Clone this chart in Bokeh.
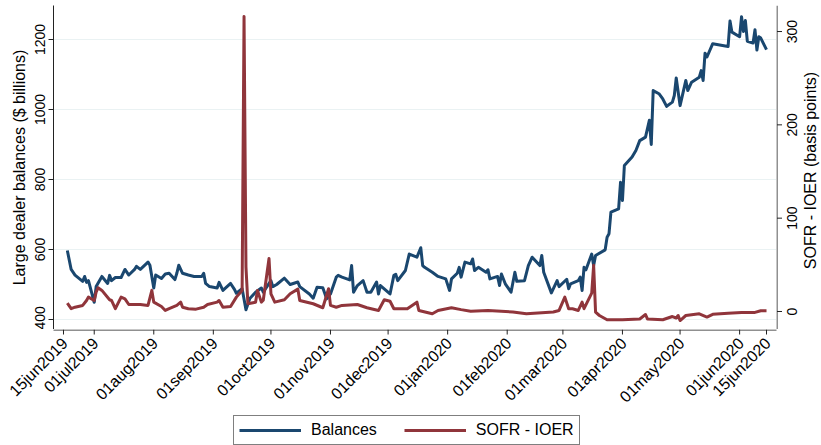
import math
import pandas as pd
from bokeh.plotting import figure
from bokeh.layouts import column, row
from bokeh.core.properties import value
from bokeh.models import (Range1d, FixedTicker, Legend, LegendItem, ColumnDataSource)
from bokeh.embed import file_html
from bokeh.resources import INLINE

# ---------------- data ----------------
bal_dates = [
    "2019-06-17", "2019-06-19", "2019-06-21", "2019-06-25", "2019-06-26", "2019-06-27", "2019-06-28",
    "2019-07-01", "2019-07-02", "2019-07-05", "2019-07-08", "2019-07-09", "2019-07-10", "2019-07-12",
    "2019-07-15", "2019-07-17", "2019-07-19", "2019-07-22", "2019-07-23", "2019-07-25", "2019-07-29",
    "2019-07-30", "2019-08-01", "2019-08-02", "2019-08-05", "2019-08-07", "2019-08-09", "2019-08-12",
    "2019-08-13", "2019-08-14", "2019-08-16", "2019-08-19", "2019-08-22", "2019-08-26", "2019-08-27",
    "2019-08-28", "2019-08-30", "2019-09-03", "2019-09-04", "2019-09-06", "2019-09-10", "2019-09-12",
    "2019-09-13", "2019-09-16", "2019-09-17", "2019-09-18", "2019-09-20", "2019-09-23", "2019-09-26",
    "2019-09-27", "2019-10-01", "2019-10-02", "2019-10-04", "2019-10-08", "2019-10-11", "2019-10-15",
    "2019-10-16", "2019-10-21", "2019-10-23", "2019-10-25", "2019-10-28", "2019-10-30", "2019-11-01",
    "2019-11-04", "2019-11-05", "2019-11-07", "2019-11-11", "2019-11-12", "2019-11-13", "2019-11-15",
    "2019-11-18", "2019-11-20", "2019-11-22", "2019-11-25", "2019-11-26", "2019-11-27", "2019-12-02",
    "2019-12-04", "2019-12-05", "2019-12-06", "2019-12-10", "2019-12-12", "2019-12-16", "2019-12-18",
    "2019-12-19", "2019-12-20", "2019-12-24", "2019-12-27", "2019-12-31", "2020-01-02", "2020-01-03",
    "2020-01-06", "2020-01-07", "2020-01-08", "2020-01-10", "2020-01-13", "2020-01-14", "2020-01-15",
    "2020-01-17", "2020-01-21", "2020-01-22", "2020-01-23", "2020-01-27", "2020-01-28", "2020-01-29",
    "2020-01-31", "2020-02-03", "2020-02-05", "2020-02-06", "2020-02-10", "2020-02-12", "2020-02-14",
    "2020-02-18", "2020-02-19", "2020-02-20", "2020-02-24", "2020-02-27", "2020-02-28", "2020-03-03",
    "2020-03-04", "2020-03-05", "2020-03-09", "2020-03-10", "2020-03-11", "2020-03-12", "2020-03-13",
    "2020-03-16", "2020-03-17", "2020-03-18", "2020-03-23", "2020-03-24", "2020-03-25", "2020-03-26",
    "2020-03-30", "2020-03-31", "2020-04-01", "2020-04-02", "2020-04-06", "2020-04-08", "2020-04-10",
    "2020-04-13", "2020-04-15", "2020-04-16", "2020-04-17", "2020-04-20", "2020-04-22", "2020-04-24",
    "2020-04-27", "2020-04-28", "2020-04-29", "2020-05-01", "2020-05-04", "2020-05-05", "2020-05-07",
    "2020-05-11", "2020-05-12", "2020-05-13", "2020-05-14", "2020-05-15", "2020-05-18", "2020-05-26",
    "2020-05-27", "2020-05-28", "2020-06-01", "2020-06-02", "2020-06-03", "2020-06-04", "2020-06-05",
    "2020-06-08", "2020-06-09", "2020-06-10", "2020-06-11", "2020-06-12", "2020-06-15",
]
bal_values = [
    597, 543, 527, 509, 523, 506, 511,
    449, 494, 523, 503, 526, 511, 520,
    520, 543, 527, 543, 552, 543, 564,
    555, 490, 527, 517, 530, 532, 514,
    532, 555, 532, 527, 523, 523, 532,
    503, 494, 490, 506, 483, 503, 486,
    475, 488, 458, 428, 460, 478, 490,
    478, 511, 494, 500, 518, 500, 507,
    494, 473, 461, 492, 491, 459, 473,
    521, 526, 521, 513, 554, 478, 497,
    511, 478, 478, 507, 473, 497, 473,
    526, 529, 511, 540, 587, 578, 605,
    554, 549, 535, 523, 516, 483, 516,
    532, 549, 521, 564, 559, 573, 540,
    549, 535, 542, 516, 523, 497, 530,
    502, 478, 535, 509, 511, 554, 578,
    554, 583, 535, 476, 511, 494, 515,
    488, 502, 511, 521, 483, 549, 542,
    587, 554, 583, 599, 635, 645, 707,
    716, 792, 740, 840, 864, 883, 911,
    921, 969, 900, 1054, 1045, 1030, 1009,
    1021, 1040, 1090, 1011, 1083, 1054, 1078,
    1092, 1111, 1083, 1161, 1150, 1188, 1180,
    1253, 1221, 1208, 1265, 1223, 1254, 1195,
    1190, 1228, 1170, 1208, 1204, 1171,
]

spread_dates = [
    "2019-06-17", "2019-06-19", "2019-06-21", "2019-06-25", "2019-06-27", "2019-06-28", "2019-07-01",
    "2019-07-02", "2019-07-03", "2019-07-05", "2019-07-09", "2019-07-10", "2019-07-12", "2019-07-15",
    "2019-07-17", "2019-07-19", "2019-07-25", "2019-07-29", "2019-07-31", "2019-08-01", "2019-08-05",
    "2019-08-07", "2019-08-09", "2019-08-13", "2019-08-15", "2019-08-16", "2019-08-19", "2019-08-23",
    "2019-08-27", "2019-08-29", "2019-09-03", "2019-09-04", "2019-09-06", "2019-09-10", "2019-09-13",
    "2019-09-16", "2019-09-17", "2019-09-18", "2019-09-19", "2019-09-23", "2019-09-24", "2019-09-26",
    "2019-09-27", "2019-09-30", "2019-10-01", "2019-10-03", "2019-10-08", "2019-10-11", "2019-10-15",
    "2019-10-16", "2019-10-23", "2019-10-28", "2019-10-31", "2019-11-01", "2019-11-04", "2019-11-07",
    "2019-11-15", "2019-11-20", "2019-11-26", "2019-11-29", "2019-12-02", "2019-12-04", "2019-12-11",
    "2019-12-16", "2019-12-17", "2019-12-24", "2019-12-27", "2020-01-03", "2020-01-08", "2020-01-13",
    "2020-01-22", "2020-02-04", "2020-02-11", "2020-02-25", "2020-02-28", "2020-03-02", "2020-03-04",
    "2020-03-06", "2020-03-09", "2020-03-11", "2020-03-12", "2020-03-16", "2020-03-17", "2020-03-18",
    "2020-03-20", "2020-03-24", "2020-04-01", "2020-04-10", "2020-04-13", "2020-04-14", "2020-04-22",
    "2020-04-27", "2020-04-29", "2020-04-30", "2020-05-01", "2020-05-04", "2020-05-11", "2020-05-15",
    "2020-05-18", "2020-05-26", "2020-06-02", "2020-06-09", "2020-06-12", "2020-06-15",
]
spread_values = [
    9.0, 3.0, 4.6, 6.5, 11.8, 15.4, 11.8,
    20.8, 25.5, 22.6, 12.6, 11.8, 3.0, 15.4,
    13.6, 7.5, 7.5, 6.5, 22.6, 10.0, 5.4,
    1.1, 3.0, 6.5, 10.0, 4.6, 2.9, 2.5,
    4.6, 7.5, 10.0, 11.8, 4.6, 5.4, 15.4,
    22.6, 316.0, 47.6, 8.3, 10.0, 22.6, 10.0,
    12.0, 56.7, 19.0, 10.0, 12.6, 19.0, 24.0,
    11.8, 8.3, 4.0, 24.4, 6.5, 4.6, 6.5,
    7.5, 4.0, 1.1, 12.6, 11.0, 2.9, 2.9,
    10.0, 1.1, -2.5, 1.1, 4.0, 2.0, 0.3,
    1.1, -0.5, -2.5, -0.5, 1.1, 15.4, 2.9,
    2.9, 1.1, 10.0, 3.0, 19.7, 49.5, -0.7,
    -4.3, -8.9, -8.9, -8.0, -3.2, -8.0, -8.9,
    -5.4, -7.0, -4.3, -9.7, -4.3, -2.5, -6.0,
    -3.0, -1.8, -1.0, -1.0, 0.8, 0.8,
]

x_tick_dates = ["2019-06-15", "2019-07-01", "2019-08-01", "2019-09-01", "2019-10-01",
                "2019-11-01", "2019-12-01", "2020-01-01", "2020-02-01", "2020-03-01",
                "2020-04-01", "2020-05-01", "2020-06-01", "2020-06-15"]
x_tick_labels = ["15jun2019", "01jul2019", "01aug2019", "01sep2019", "01oct2019",
                 "01nov2019", "01dec2019", "01jan2020", "01feb2020", "01mar2020",
                 "01apr2020", "01may2020", "01jun2020", "15jun2020"]
left_ticks = [400, 600, 800, 1000, 1200]
right_ticks = [0, 100, 200, 300]
right_tick_labels = ["0", "100", "200", "300"]
series_labels = ["Balances", "SOFR - IOER"]
left_title = "Large dealer balances ($ billions)"
right_title = "SOFR - IOER (basis points)"

# ---------------- styling / geometry ----------------
NAVY = "#1a476f"
MAROON = "#90353b"
GRID = "#eaf2f3"
AXIS = "#222222"
FONT = "Liberation Sans"
DAY_MS = 86400000

TOTAL_W, TOTAL_H = 821, 445
LEFT_B = 53            # room for left tick labels and title
TOP_B = 5
FRAME_W = 723          # plotting area width
FRAME_H = 324          # plotting area height
RIGHT_W = TOTAL_W - LEFT_B - FRAME_W   # strip for the right-hand scale
MAIN_H = TOP_B + FRAME_H
BOTTOM_H = TOTAL_H - MAIN_H
TICK = 5
PAD_DAYS = 5.2
BP_RANGE = (-19.3, 327.9)
BAL_RANGE = (371.4, 1297.1)


def to_ms(s):
    return pd.Timestamp(s).value // 10**6


x_start = to_ms(x_tick_dates[0]) - PAD_DAYS * DAY_MS
x_end = to_ms(x_tick_dates[-1]) + PAD_DAYS * DAY_MS
ms_per_px = (x_end - x_start) / FRAME_W
bp_per_px = (BP_RANGE[1] - BP_RANGE[0]) / FRAME_H

# ---------------- main chart ----------------
p = figure(width=LEFT_B + FRAME_W, height=MAIN_H, x_axis_type="datetime",
           x_axis_location=None, output_backend="svg", toolbar_location=None,
           x_range=Range1d(x_start, x_end), y_range=Range1d(*BAL_RANGE),
           min_border_top=TOP_B, min_border_left=LEFT_B, min_border_right=0,
           min_border_bottom=0,
           background_fill_color="white", border_fill_color="white")
p.outline_line_color = None
p.extra_y_ranges = {"bp": Range1d(*BP_RANGE)}

r_bal = p.line(pd.to_datetime(bal_dates), bal_values, line_color=NAVY, line_width=3,
               line_join="round")
r_spr = p.line(pd.to_datetime(spread_dates), spread_values, line_color=MAROON, line_width=3,
               line_join="round", y_range_name="bp")

ya = p.yaxis[0]
ya.ticker = FixedTicker(ticks=left_ticks)
ya.axis_label = left_title
ya.major_label_orientation = "vertical"
ya.axis_line_color = AXIS
ya.major_tick_line_color = AXIS
ya.major_tick_out = TICK
ya.major_tick_in = 0
ya.minor_tick_line_color = None
ya.major_label_text_font = FONT
ya.major_label_text_font_size = "14px"
ya.major_label_text_color = "black"
ya.major_label_standoff = 3
ya.axis_label_text_font = FONT
ya.axis_label_text_font_size = "16px"
ya.axis_label_text_font_style = "normal"
ya.axis_label_text_color = "black"
ya.axis_label_standoff = 5

p.xgrid.grid_line_color = None
p.ygrid.ticker = FixedTicker(ticks=left_ticks)
p.ygrid.grid_line_color = GRID
p.ygrid.grid_line_width = 1

# ---------------- right axis strip (SOFR - IOER scale) ----------------
rs = figure(width=RIGHT_W, height=MAIN_H, output_backend="svg", toolbar_location=None,
            x_axis_location=None, y_axis_location=None,
            x_range=Range1d(0, RIGHT_W), y_range=Range1d(*BP_RANGE),
            min_border_top=TOP_B, min_border_left=0, min_border_right=0, min_border_bottom=0,
            background_fill_color="white", border_fill_color="white")
rs.outline_line_color = None
rs.grid.grid_line_color = None
rs.segment(x0=0.5, y0=BP_RANGE[0], x1=0.5, y1=BP_RANGE[1], line_color=AXIS, line_width=1)
rs.segment(x0=[0.5] * len(right_ticks), y0=right_ticks,
           x1=[0.5 + TICK] * len(right_ticks), y1=right_ticks, line_color=AXIS, line_width=1)
rs.text(x=[15.5] * len(right_ticks), y=right_ticks, text=right_tick_labels,
        angle=math.pi / 2, text_align="center", text_baseline="middle",
        text_font=value(FONT), text_font_size=value("14px"), text_color="black")
title_y = BP_RANGE[0] + (MAIN_H - 170) * bp_per_px
rs.text(x=[34], y=[title_y], text=[right_title],
        angle=math.pi / 2, text_align="center", text_baseline="middle",
        text_font=value(FONT), text_font_size=value("16px"), text_color="black")

# ---------------- bottom strip (date axis + legend) ----------------
bs_x_start = x_start - LEFT_B * ms_per_px
bs_x_end = bs_x_start + TOTAL_W * ms_per_px
bs = figure(width=TOTAL_W, height=BOTTOM_H, output_backend="svg", toolbar_location=None,
            x_axis_location=None, y_axis_location=None,
            x_range=Range1d(bs_x_start, bs_x_end), y_range=Range1d(-BOTTOM_H, 0),
            min_border=0, background_fill_color="white", border_fill_color="white")
bs.outline_line_color = None
bs.grid.grid_line_color = None
tick_ms = [to_ms(d) for d in x_tick_dates]
bs.segment(x0=x_start, y0=-0.5, x1=x_end, y1=-0.5, line_color=AXIS, line_width=1)
bs.segment(x0=tick_ms, y0=[0] * len(tick_ms), x1=tick_ms, y1=[-TICK] * len(tick_ms),
           line_color=AXIS, line_width=1)
lab_src = ColumnDataSource(dict(x=[t + 1.5 * ms_per_px for t in tick_ms],
                                y=[-11] * len(tick_ms), text=x_tick_labels))
bs.text(x="x", y="y", text="text", source=lab_src, angle=math.pi / 4,
        text_align="right", text_baseline="middle",
        text_font=value(FONT), text_font_size=value("16px"), text_color="black")

# legend keys (lines kept above the visible strip, used only for the legend samples)
k_bal = bs.line([bs_x_start, bs_x_end], [50, 50], line_color=NAVY, line_width=3)
k_spr = bs.line([bs_x_start, bs_x_end], [50, 50], line_color=MAROON, line_width=3)
legend = Legend(items=[LegendItem(label=series_labels[0], renderers=[k_bal]),
                       LegendItem(label=series_labels[1], renderers=[k_spr])],
                orientation="horizontal", location=(233, 0))
legend.label_text_font = FONT
legend.label_text_font_size = "16px"
legend.label_text_color = "black"
legend.glyph_width = 62
legend.glyph_height = 18
legend.label_standoff = 10
legend.spacing = 27
legend.padding = 5
legend.margin = 0
legend.border_line_color = "black"
legend.border_line_width = 1
legend.background_fill_color = "white"
bs.add_layout(legend, "center")

layout = column(row(p, rs, spacing=0), bs, spacing=0)

with open("out.html", "w") as f:
    f.write(file_html(layout, INLINE))
